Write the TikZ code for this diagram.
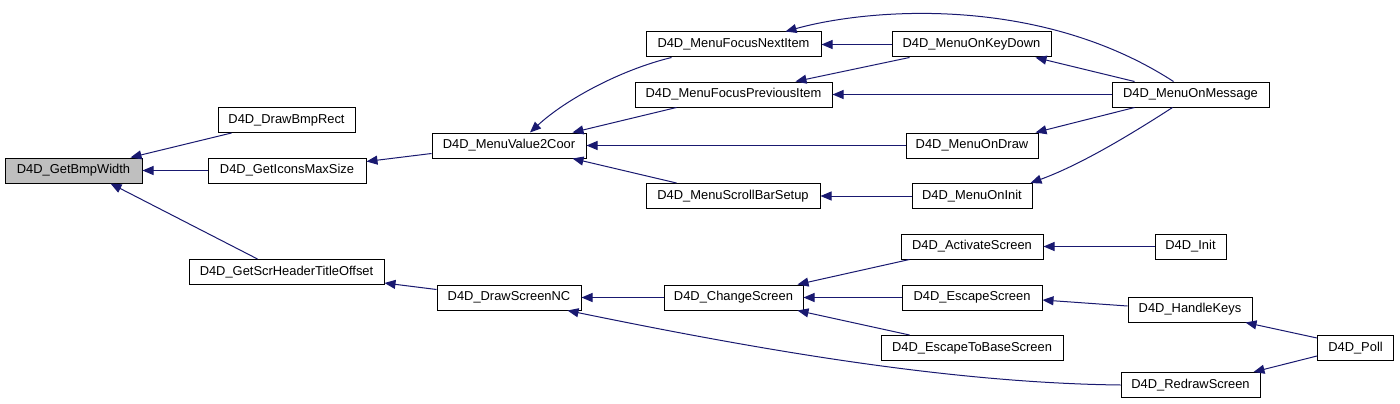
\documentclass[tikz,border=0pt]{standalone}
\usepackage{fontspec}
\setmainfont{Liberation Sans}
\usetikzlibrary{arrows.meta}
\definecolor{edgeblue}{HTML}{191970}
\definecolor{selgray}{HTML}{BFBFBF}

\begin{document}
\begin{tikzpicture}[x=1pt,y=-1pt,
  fnbox/.style={draw=black, line width=1pt, fill=white, inner sep=0pt,
    minimum height=25pt, font=\fontsize{12.9}{15}\selectfont},
  call/.style={draw=edgeblue, line width=1pt,
    -{Triangle[length=11pt,width=9pt]}}]
\useasboundingbox[fill=white] (0,0) rectangle (1400,404);
\node[fnbox, fill=selgray, minimum width=137pt] (bmpwidth) at (73.5,170.5) {D4D\_GetBmpWidth};
\node[fnbox, minimum width=137pt] (drawbmp) at (286.5,120) {D4D\_DrawBmpRect};
\node[fnbox, minimum width=158pt] (iconsmax) at (287,170.5) {D4D\_GetIconsMaxSize};
\node[fnbox, minimum width=195pt] (scrheader) at (286.5,272) {D4D\_GetScrHeaderTitleOffset};
\node[fnbox, minimum width=154pt] (value2coor) at (509,145.5) {D4D\_MenuValue2Coor};
\node[fnbox, minimum width=144pt] (drawscreennc) at (509,297.5) {D4D\_DrawScreenNC};
\node[fnbox, minimum width=175pt] (focusnext) at (733.5,44.5) {D4D\_MenuFocusNextItem};
\node[fnbox, minimum width=197pt] (focusprev) at (733.5,94.5) {D4D\_MenuFocusPreviousItem};
\node[fnbox, minimum width=174pt] (scrollbar) at (733,196) {D4D\_MenuScrollBarSetup};
\node[fnbox, minimum width=139pt] (changescreen) at (733.5,297.5) {D4D\_ChangeScreen};
\node[fnbox, minimum width=159pt] (onkeydown) at (971.5,44.5) {D4D\_MenuOnKeyDown};
\node[fnbox, minimum width=132pt] (ondraw) at (972,145.5) {D4D\_MenuOnDraw};
\node[fnbox, minimum width=120pt] (oninit) at (972,196) {D4D\_MenuOnInit};
\node[fnbox, minimum width=142pt] (activate) at (972,246.5) {D4D\_ActivateScreen};
\node[fnbox, minimum width=140pt] (escape) at (972,297.5) {D4D\_EscapeScreen};
\node[fnbox, minimum width=182pt] (escapebase) at (972,348) {D4D\_EscapeToBaseScreen};
\node[fnbox, minimum width=157pt] (onmessage) at (1190.5,94.5) {D4D\_MenuOnMessage};
\node[fnbox, minimum width=71pt] (init) at (1190.5,246.5) {D4D\_Init};
\node[fnbox, minimum width=124pt] (handlekeys) at (1190,309.5) {D4D\_HandleKeys};
\node[fnbox, minimum width=139pt] (redraw) at (1190.5,385) {D4D\_RedrawScreen};
\node[fnbox, minimum width=76pt] (poll) at (1355.5,348) {D4D\_Poll};

\draw[call] ([xshift=14pt]drawbmp.south west) -- ([xshift=-12pt]bmpwidth.north east);
\draw[call] (iconsmax.west) -- (bmpwidth.east);
\draw[call] ([xshift=69pt]scrheader.north west) -- ([xshift=-32pt]bmpwidth.south east);
\draw[call] ([yshift=-8pt]value2coor.west) -- ([yshift=9pt]iconsmax.east);
\draw[call] ([yshift=8pt]drawscreennc.west) -- ([yshift=-11pt]scrheader.east);
\draw[call] ([xshift=26pt]focusnext.south west) .. controls (620,70) and (565,100) .. ([xshift=21pt]value2coor.north);
\draw[call] ([xshift=42pt]focusprev.south west) -- ([xshift=-14pt]value2coor.north east);
\draw[call] (ondraw.west) -- (value2coor.east);
\draw[call] ([xshift=31pt]scrollbar.north west) -- ([xshift=-14pt]value2coor.south east);
\draw[call] (changescreen.west) -- (drawscreennc.east);
\draw[call] (redraw.west) .. controls (950,383) and (760,350) .. ([xshift=-14pt]drawscreennc.south east);
\draw[call] (onkeydown.west) -- (focusnext.east);
\draw[call] ([xshift=-17pt]onmessage.north) .. controls (1040,-5) and (870,8) .. ([xshift=-36pt]focusnext.north east);
\draw[call] ([xshift=18pt]onkeydown.south west) -- ([xshift=-37pt]focusprev.north east);
\draw[call] (onmessage.west) -- (focusprev.east);
\draw[call] ([xshift=23pt]onmessage.north west) -- ([xshift=-16pt]onkeydown.south east);
\draw[call] ([xshift=23pt]onmessage.south west) -- ([xshift=-3pt]ondraw.north east);
\draw[call] ([xshift=-18pt]onmessage.south) .. controls (1130,135) and (1080,165) .. ([xshift=-2pt]oninit.north east);
\draw[call] (oninit.west) -- (scrollbar.east);
\draw[call] ([xshift=9pt]activate.south west) -- ([xshift=-6pt]changescreen.north east);
\draw[call] (escape.west) -- (changescreen.east);
\draw[call] ([xshift=29pt]escapebase.north west) -- ([xshift=-6pt]changescreen.south east);
\draw[call] (init.west) -- (activate.east);
\draw[call] ([yshift=3.5pt]handlekeys.west) -- ([yshift=-2.5pt]escape.east);
\draw[call] ([yshift=10pt]poll.west) -- ([xshift=-7pt]handlekeys.south east);
\draw[call] ([yshift=-8pt]poll.west) -- ([xshift=-7pt]redraw.north east);
\end{tikzpicture}
\end{document}
